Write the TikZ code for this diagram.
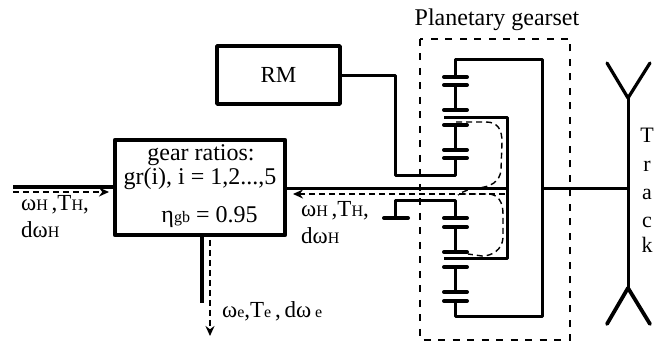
\documentclass[tikz,border=0pt]{standalone}
\usepackage{fontspec}
\setmainfont{Liberation Serif}
\usetikzlibrary{arrows.meta}
\tikzset{
  heavy/.style={line width=4.4pt,line join=round},
  medium/.style={line width=3.8pt,line join=round},
  shaft/.style={line width=3pt,line join=round},
  gearbar/.style={line width=4pt,line cap=round},
  flow/.style={line width=1.4pt,dash pattern=on 6pt off 4pt},
  flowtip/.style={flow,-{Stealth[length=10pt,width=9pt]}},
  frame/.style={line width=1.9pt,dash pattern=on 7pt off 7.5pt},
  lbl/.style={inner sep=0pt,align=center,font=\fontsize{24}{26}\selectfont},
  qty/.style={inner sep=0pt,anchor=west,font=\fontsize{23}{26}\selectfont},
  trk/.style={inner sep=0pt,font=\fontsize{22}{24}\selectfont}
}
\newcommand{\sbs}[1]{{\fontsize{16}{17}\selectfont #1}}
\begin{document}
\begin{tikzpicture}[x=1pt,y=-1pt]
\useasboundingbox (0,0) rectangle (654,344);
% nodes
\node[draw,heavy,minimum width=170pt,minimum height=95pt,inner sep=0pt] (gb) at (200,187.5) {};
\node[draw,medium,minimum width=123pt,minimum height=58pt,inner sep=0pt,font=\fontsize{23}{24}\selectfont] (rm) at (278.5,75) {RM};
\node[lbl] (title) at (497,20) {Planetary gearset};
\node[lbl] (t1) at (201,155) {gear ratios:};
\node[lbl] (t2) at (200,179) {gr(i), i = 1,2...,5};
\node[lbl] (t3) at (209.5,217) {η\sbs{gb} = 0.95};
\node[qty] (a1) at (21,205) {ω\sbs{H}\,,T\sbs{H},};
\node[qty] (a2) at (21,230) {dω\sbs{H}};
\node[qty] (b1) at (301,211) {ω\sbs{H}\,,T\sbs{H},};
\node[qty] (b2) at (301,236) {dω\sbs{H}};
\node[qty] (c1) at (222,311) {ω\sbs{e},T\sbs{e}\,,\,dω\,\sbs{e}};
\node[trk] (k1) at (647,135) {T};
\node[trk] (k2) at (647,166) {r};
\node[trk] (k3) at (647,194) {a};
\node[trk] (k4) at (647,222) {c};
\node[trk] (k5) at (647,245) {k};
% frame
\draw[frame] (420,39) rectangle (570,340);
% coordinates
\coordinate (inL) at (13,187);
\coordinate (inD) at (13,192);
\coordinate (outB) at (202,303);
\coordinate (dS) at (210,240);
\coordinate (dE) at (210,336);
% input
\draw[line width=3.4pt] (inL) -- (gb.west |- inL);
\draw[flowtip] (inD) -- (109,192);
% output
\draw[line width=4pt] (202,235) -- (outB);
\draw[flowtip] (dS) -- (dE);
% RM link
\draw[shaft] (rm.east |- 0,76) -- (395,76) -- (395,176) -- (455,176) -- (455,158);
% main shaft
\draw[shaft] (gb.east |- 0,189) -- (507,189);
\draw[shaft] (444,118) -- (507,118) -- (507,259) -- (444,259);
\draw[shaft] (542,189) -- (628,189);
% outer ring
\draw[shaft] (455,77) -- (455,60) -- (542,60) -- (542,317) -- (455,317) -- (455,301);
% planets
\draw[shaft] (455,85) -- (455,110);
\draw[shaft] (455,125) -- (455,150);
\draw[shaft] (455,227) -- (455,252);
\draw[shaft] (455,267) -- (455,292);
\draw[shaft] (455,218) -- (455,201) -- (395,201) -- (395,218);
\foreach \yy in {77,85,110,125,150,158,218,227,252,267,292,301}
  \draw[gearbar] (444,\yy) -- (467,\yy);
\draw[gearbar] (384,218) -- (408,218);
% track
\draw[line width=3pt] (628,98) -- (628,288);
\draw[line width=3.2pt,line cap=round,line join=round] (607,63) -- (628,98) -- (650,63);
\draw[line width=3.8pt,line cap=round,line join=round] (607,324) -- (628,288) -- (650,324);
% flows
\draw[flowtip] (505,194) -- (293,194);
\draw[flow] (456,122) -- (486,122) .. controls (498,122) and (502,130) .. (502,142) -- (501,170) .. controls (500,182) and (490,187) .. (478,188) .. controls (470,189) and (463,191) .. (458,195);
\draw[flow] (460,194) -- (488,194) .. controls (498,194) and (503,202) .. (503,214) -- (503,238) .. controls (502,250) and (492,256) .. (482,256) -- (468,254);
\end{tikzpicture}
\end{document}
